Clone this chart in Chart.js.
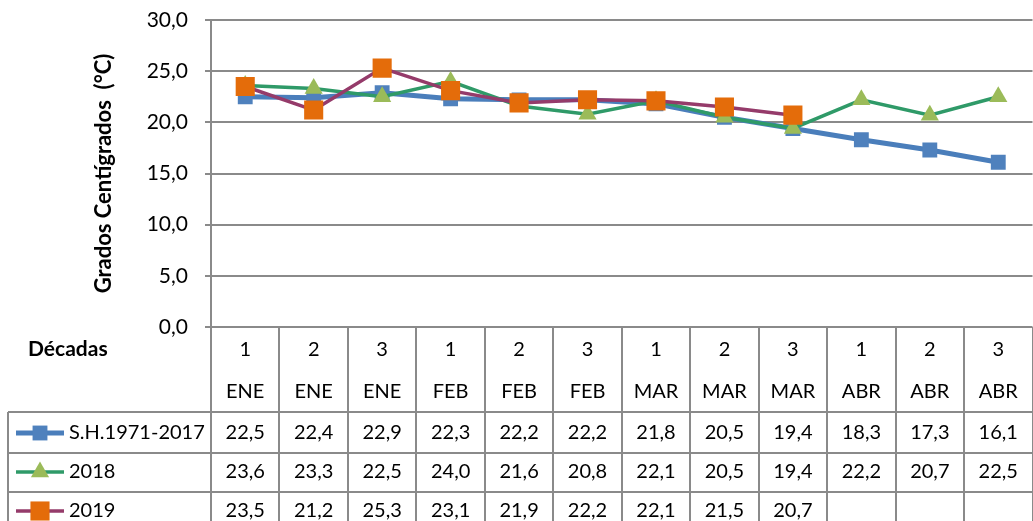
<!DOCTYPE html>
<html>
<head>
<meta charset="utf-8">
<script src="https://cdn.jsdelivr.net/npm/chart.js@4/dist/chart.umd.min.js"></script>
<style>
  html, body { margin: 0; padding: 0; background: #fff; overflow: hidden; }
  #wrap { width: 1046px; height: 521px; }
</style>
</head>
<body>
<div id="wrap"><canvas id="tempChart" width="1046" height="521"></canvas></div>
<script>
// decades and months (two header rows of the table)
const decadas = ['1', '2', '3', '1', '2', '3', '1', '2', '3', '1', '2', '3'];
const meses = ['ENE', 'ENE', 'ENE', 'FEB', 'FEB', 'FEB', 'MAR', 'MAR', 'MAR', 'ABR', 'ABR', 'ABR'];

const serieHistorica = [22.5, 22.4, 22.9, 22.3, 22.2, 22.2, 21.8, 20.5, 19.4, 18.3, 17.3, 16.1];
const anio2018 = [23.6, 23.3, 22.5, 24.0, 21.6, 20.8, 22.1, 20.5, 19.4, 22.2, 20.7, 22.5];
const anio2019 = [23.5, 21.2, 25.3, 23.1, 21.9, 22.2, 22.1, 21.5, 20.7, null, null, null];

const seriesNames = ['S.H.1971-2017', '2018', '2019'];

const FONT = 'Lato, Carlito, "Liberation Sans", sans-serif';
const GRID = '#8a8a8a';

function fmt(v) {
    return v === null ? '' : v.toFixed(1).replace('.', ',');
}

const styles = [
    { line: '#4a7ebb', width: 5, marker: '#4f81bd', shape: 'rect', r: 10.5 },
    { line: '#2f9a68', width: 3.5, marker: '#9bbb59', shape: 'triangle', r: 10.5 },
    { line: '#953b6a', width: 3.5, marker: '#e46c0a', shape: 'rect', r: 13.5 }
];

/* draws the data table under the plot, aligned to the x scale */
const tablePlugin = {
    id: 'dataTable',
    afterDraw(chart) {
        const ctx = chart.ctx;
        const xs = chart.scales.x;
        const area = chart.chartArea;
        const half = (area.right - area.left) / (decadas.length * 2);
        const top = area.bottom;
        const rowLines = [top + 85, top + 126, top + 165, top + 205];
        const bottom = rowLines[3];

        ctx.save();
        ctx.strokeStyle = GRID;
        ctx.lineWidth = 2;

        // vertical cell borders
        for (let i = 0; i <= decadas.length; i++) {
            const x = Math.round(xs.getPixelForValue(i) - half);
            ctx.beginPath();
            ctx.moveTo(x, top);
            ctx.lineTo(x, bottom);
            ctx.stroke();
        }
        // legend column left border
        ctx.beginPath();
        ctx.moveTo(8, rowLines[0]);
        ctx.lineTo(8, bottom);
        ctx.stroke();

        // horizontal borders
        rowLines.forEach(y => {
            ctx.beginPath();
            ctx.moveTo(8, y);
            ctx.lineTo(area.right + 2, y);
            ctx.stroke();
        });

        ctx.fillStyle = '#000';
        ctx.textAlign = 'center';
        ctx.textBaseline = 'middle';
        ctx.font = '20px ' + FONT;
        for (let i = 0; i < decadas.length; i++) {
            const cx = xs.getPixelForValue(i);
            ctx.fillText(decadas[i], cx, top + 23);
            ctx.fillText(meses[i], cx, top + 65);
            ctx.fillText(fmt(serieHistorica[i]), cx, top + 106);
            ctx.fillText(fmt(anio2018[i]), cx, top + 145);
            ctx.fillText(fmt(anio2019[i]), cx, top + 184);
        }

        ctx.textAlign = 'left';
        ctx.font = 'bold 21px ' + FONT;
        ctx.fillText('Décadas', 28, top + 22);

        // legend keys
        ctx.font = '20px ' + FONT;
        const keyY = [top + 106, top + 145, top + 184];
        seriesNames.forEach((name, k) => {
            const st = styles[k];
            const y = keyY[k];
            ctx.strokeStyle = st.line;
            ctx.lineWidth = st.width;
            ctx.beginPath();
            ctx.moveTo(16, y);
            ctx.lineTo(64, y);
            ctx.stroke();
            ctx.fillStyle = st.marker;
            const cx = 40;
            if (st.shape === 'rect') {
                const s = st.r * Math.SQRT1_2;
                ctx.fillRect(cx - s, y - s, 2 * s, 2 * s);
            } else {
                ctx.beginPath();
                ctx.moveTo(cx, y - st.r);
                ctx.lineTo(cx + st.r * 0.866, y + st.r / 2);
                ctx.lineTo(cx - st.r * 0.866, y + st.r / 2);
                ctx.closePath();
                ctx.fill();
            }
            ctx.fillStyle = '#000';
            ctx.fillText(name, 69, y);
        });
        ctx.restore();
    }
};

const seriesData = [serieHistorica, anio2018, anio2019];

new Chart(document.getElementById('tempChart'), {
    type: 'line',
    data: {
        labels: decadas,
        datasets: seriesData.map((d, k) => ({
            label: seriesNames[k],
            data: d,
            borderColor: styles[k].line,
            borderWidth: styles[k].width,
            backgroundColor: styles[k].marker,
            pointBackgroundColor: styles[k].marker,
            pointBorderColor: styles[k].marker,
            pointBorderWidth: 0,
            pointStyle: styles[k].shape,
            pointRadius: styles[k].r,
            tension: 0,
            fill: false,
            order: 3 - k
        }))
    },
    options: {
        responsive: false,
        animation: false,
        layout: { padding: { left: 91, top: 20, right: 1, bottom: 0 } },
        plugins: {
            legend: { display: false },
            tooltip: { enabled: false }
        },
        scales: {
            x: {
                offset: true,
                grid: { display: false },
                border: { display: false },
                ticks: { display: false },
                afterFit(scale) { scale.height = 194; }
            },
            y: {
                min: 0,
                max: 30,
                ticks: {
                    stepSize: 5,
                    padding: 17,
                    color: '#000',
                    font: { family: FONT, size: 21 },
                    callback: v => fmt(v)
                },
                grid: { color: GRID, lineWidth: 2, tickLength: 6 },
                border: { color: GRID, width: 2 },
                title: {
                    display: true,
                    text: 'Grados Centígrados  (°C)',
                    color: '#000',
                    font: { family: FONT, size: 22, weight: 'bold' },
                    padding: { top: 0, bottom: 0 }
                },
                afterFit(scale) {
                    scale.width = 120;
                    scale.paddingTop = 0;
                    scale.paddingBottom = 0;
                }
            }
        }
    },
    plugins: [tablePlugin]
});
</script>
</body>
</html>
